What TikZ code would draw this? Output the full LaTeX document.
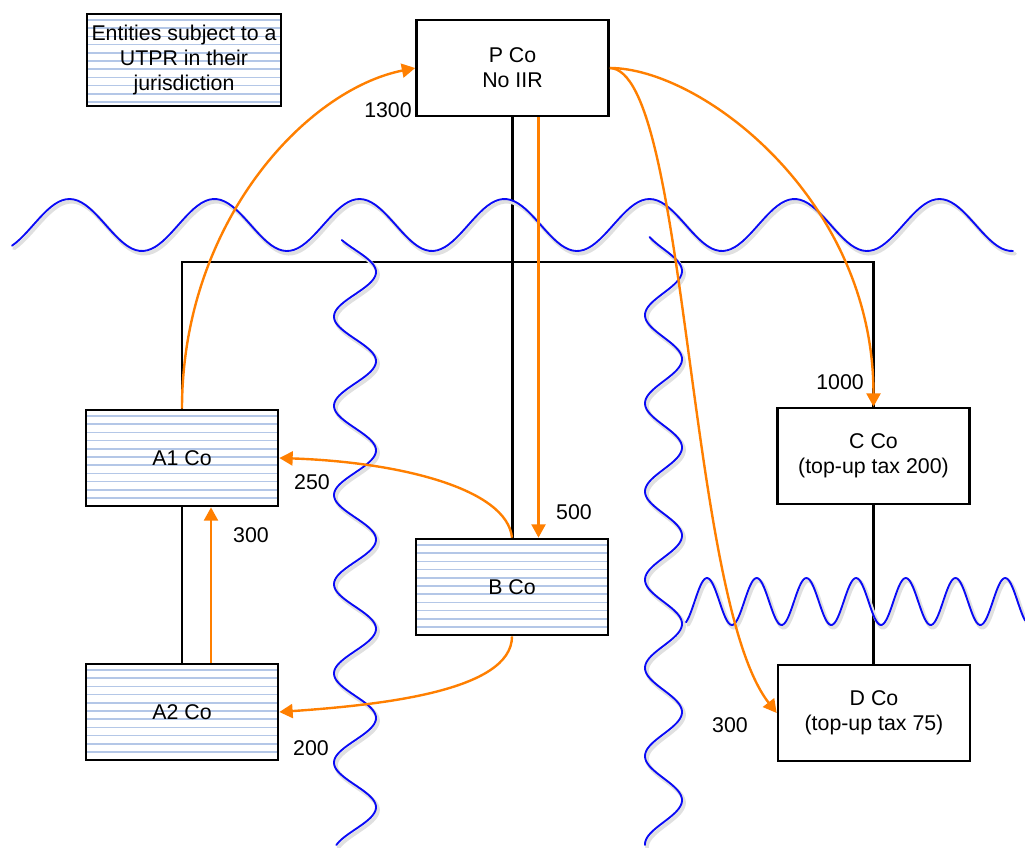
\documentclass[tikz,border=0pt]{standalone}
\usepackage{fontspec}
\setmainfont{Liberation Sans}
\usetikzlibrary{arrows.meta,calc}
\definecolor{orangeA}{RGB}{255,127,0}
\definecolor{blueW}{RGB}{10,10,245}
\definecolor{hatchC}{RGB}{180,199,231}
\newcommand\fsz{\fontsize{16pt}{18.6pt}\selectfont}
\begin{document}
\begin{tikzpicture}[x=0.75pt,y=-0.75pt,
  box/.style={draw=black, line width=2pt, fill=white, minimum width=144pt,
    minimum height=72pt, inner sep=0pt, align=center, font=\fsz},
  hatched/.style={path picture={
    \foreach \k in {0,...,12}{
      \draw[hatchC, line width=1.1pt]
        ($(path picture bounding box.north west)+(0,6+\k*8.2)$) --
        ($(path picture bounding box.north east)+(0,6+\k*8.2)$);}}},
  tree/.style={draw=black, line width=2pt},
  oarr/.style={draw=orangeA, line width=1.8pt, -{Triangle[length=10pt,width=10.5pt]}},
  wave/.style={draw=blueW, line width=1.4pt, line cap=round},
  wshadow/.style={draw=black!12, line width=2.8pt, line cap=round,
    transform canvas={shift={(1.5pt,-2pt)}}},
  lbl/.style={font=\fsz, inner sep=0pt}]
\useasboundingbox (0,0) rectangle (1025,847);

% boxes
\node[box, hatched, minimum width=145.5pt, minimum height=69pt] (legend) at (184,60)
  {Entities subject to a\\UTPR in their\\jurisdiction};
\node[box] (P) at (512.5,68) {P Co\\No IIR};
\node[box, hatched] (A1) at (182,458) {A1 Co};
\node[box, hatched] (A2) at (182,712) {A2 Co};
\node[box, hatched] (B) at (512,587) {B Co};
\node[box] (C) at (873.5,456) {C Co\\(top-up tax 200)};
\node[box] (D) at (874,713) {D Co\\(top-up tax 75)};

% ownership tree
\coordinate (bus) at (512.5,262);
\draw[tree] (P.south) -- (P.south |- B.north);
\draw[tree] (A1.north) |- (bus) -| (C.north);
\draw[tree] (A1.south) -- (A2.north);
\draw[tree] (C.south) -- (C.south |- D.north);

% jurisdiction borders
\foreach \st in {wshadow,wave}{
  \draw[\st] plot[domain=12:1013, samples=260] (\x,{225+26*cos((\x+3)*2.48276)});
  \draw[\st] plot[domain=240:845, samples=320] ({355-21*cos((\x-227.4)*4.03587)},\x);
  \draw[\st] plot[domain=237:845, samples=320] ({663.5-18.5*cos((\x-226.9)*4.08163)},\x);
  \draw[\st] plot[domain=686:1025, samples=240] (\x,{601.5-23.5*cos((\x-707)*7.24346)});
}

% payments
\path ([xshift=19.5pt]P.south) coordinate (ps);
\path ([xshift=21.75pt]A2.north) coordinate (a2n);
\draw[oarr] (A1.north) .. controls +(0,-185) and +(-110,22) .. (P.west);
\draw[oarr] (ps) -- (ps |- B.north);
\draw[oarr] (P.east) .. controls +(91,0) and +(0,-208) .. (C.north);
\draw[oarr] (P.east) .. controls +(78,2) and +(-90,-115) .. (D.west);
\draw[oarr] (B.north) .. controls +(-5,-49) and +(120,4) .. (A1.east);
\draw[oarr] (B.south) .. controls +(0,55) and +(100,-7) .. (A2.east);
\draw[oarr] (a2n) -- (a2n |- A1.south);

% amounts
\node[lbl] (l1300) at (388,110) {1300};
\node[lbl] (l500) at (574,512) {500};
\node[lbl] (l1000) at (840,382) {1000};
\node[lbl] (l250) at (312,482) {250};
\node[lbl] (l300a) at (251,535) {300};
\node[lbl] (l200) at (311,748) {200};
\node[lbl] (l300b) at (730,725) {300};
\end{tikzpicture}
\end{document}
